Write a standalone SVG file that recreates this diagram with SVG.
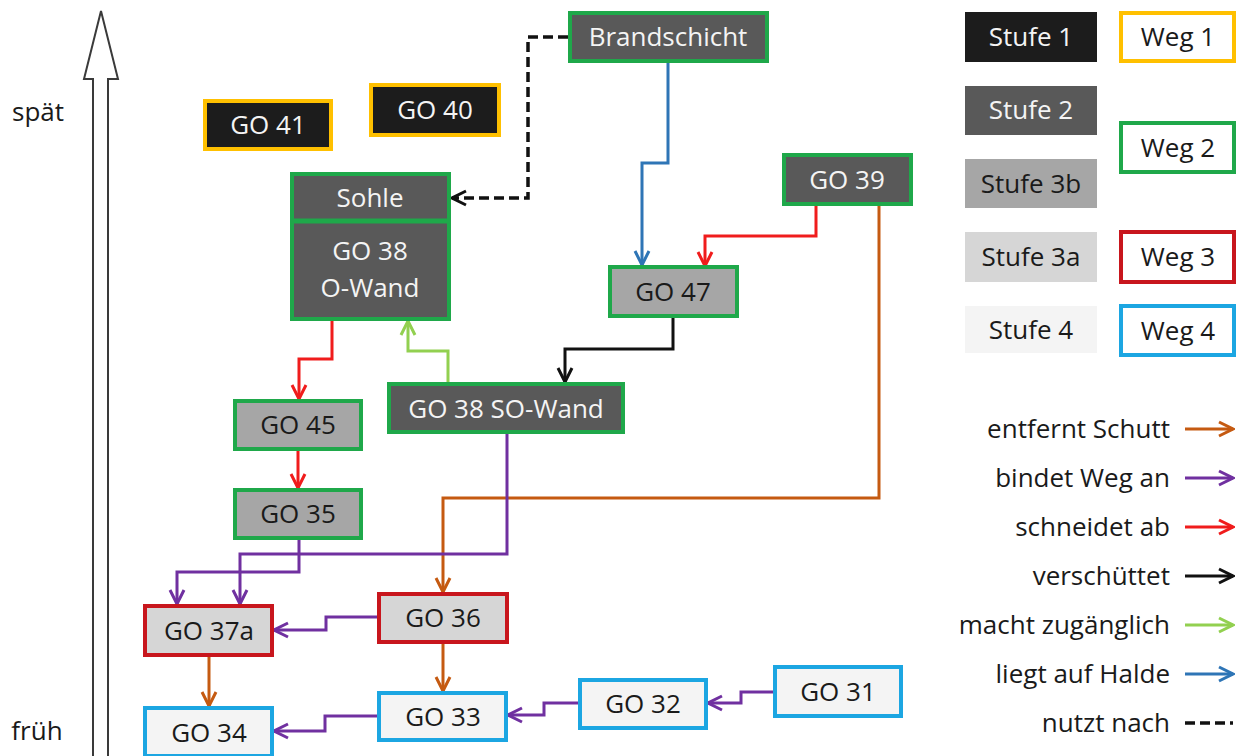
<svg xmlns="http://www.w3.org/2000/svg" width="1239" height="756" viewBox="0 0 1239 756">
<style>
text{font-family:"Open Sans","Noto Sans","Liberation Sans",sans-serif;font-size:26px;text-anchor:middle;fill:#1a1a1a}
.w{fill:#f4f4f4}
.lg{text-anchor:end}
.s1{fill:#1c1c1c}.s2{fill:#595959}.s3b{fill:#a6a6a6}.s3a{fill:#d6d6d6}.s4{fill:#f4f4f4}
.bY{stroke:#ffc000;stroke-width:4}.bG{stroke:#1fa84a;stroke-width:4}.bR{stroke:#c8161d;stroke-width:4}.bB{stroke:#1ca6e2;stroke-width:4}
.c{fill:none;stroke-width:3;stroke-linejoin:miter}
.or{stroke:#c55a11;marker-end:url(#aO)}.pu{stroke:#7030a0;marker-end:url(#aP)}.rd{stroke:#f01c1c;marker-end:url(#aR)}
.bk{stroke:#111;marker-end:url(#aK)}.gr{stroke:#92d050;marker-end:url(#aG)}.bl{stroke:#2e75b6;marker-end:url(#aB)}
.da{stroke:#111;stroke-width:3.5;stroke-dasharray:10 5;marker-end:url(#aK)}
</style>
<defs>
<marker id="aO" viewBox="0 0 18 18" markerWidth="18" markerHeight="18" refX="16" refY="9" orient="auto" markerUnits="userSpaceOnUse"><path d="M2,2 L16,9 L2,16" fill="none" stroke="#c55a11" stroke-width="3"/></marker>
<marker id="aP" viewBox="0 0 18 18" markerWidth="18" markerHeight="18" refX="16" refY="9" orient="auto" markerUnits="userSpaceOnUse"><path d="M2,2 L16,9 L2,16" fill="none" stroke="#7030a0" stroke-width="3"/></marker>
<marker id="aR" viewBox="0 0 18 18" markerWidth="18" markerHeight="18" refX="16" refY="9" orient="auto" markerUnits="userSpaceOnUse"><path d="M2,2 L16,9 L2,16" fill="none" stroke="#f01c1c" stroke-width="3"/></marker>
<marker id="aK" viewBox="0 0 18 18" markerWidth="18" markerHeight="18" refX="16" refY="9" orient="auto" markerUnits="userSpaceOnUse"><path d="M2,2 L16,9 L2,16" fill="none" stroke="#111" stroke-width="3"/></marker>
<marker id="aG" viewBox="0 0 18 18" markerWidth="18" markerHeight="18" refX="16" refY="9" orient="auto" markerUnits="userSpaceOnUse"><path d="M2,2 L16,9 L2,16" fill="none" stroke="#92d050" stroke-width="3"/></marker>
<marker id="aB" viewBox="0 0 18 18" markerWidth="18" markerHeight="18" refX="16" refY="9" orient="auto" markerUnits="userSpaceOnUse"><path d="M2,2 L16,9 L2,16" fill="none" stroke="#2e75b6" stroke-width="3"/></marker>
</defs>
<rect width="1239" height="756" fill="#fff"/>
<g id="timeline">
<polygon points="101,11 118,79 108,79 108,760 93,760 93,79 84,79" fill="#fff" stroke="#3a3a3a" stroke-width="2"/>
<text x="38" y="121">spät</text>
<text x="37" y="740">früh</text>
</g>
<g id="connectors">
<path class="c da" d="M568,37 H528 V198 H452"/>
<path class="c bl" d="M668,63 V163 H642 V265"/>
<path class="c rd" d="M816,206 V236 H705 V266"/>
<path class="c or" d="M879,206 V498 H443 V592"/>
<path class="c bk" d="M673,318 V349 H565 V382"/>
<path class="c rd" d="M332,321 V359 H299 V399"/>
<path class="c gr" d="M448,382 V351 H408 V321"/>
<path class="c rd" d="M298,451 V488"/>
<path class="c pu" d="M507,434 V554 H240 V604"/>
<path class="c pu" d="M299,540 V572 H177 V604"/>
<path class="c pu" d="M377,617 H326 V630 H274"/>
<path class="c or" d="M209,657 V706"/>
<path class="c or" d="M443,644 V691"/>
<path class="c pu" d="M377,716 H325 V731 H274"/>
<path class="c pu" d="M578,703 H544 V715 H508"/>
<path class="c pu" d="M773,692 H741 V703 H708"/>
</g>
<g id="go41"><rect class="s1 bY" x="205" y="101" width="126" height="48"/><text class="w" x="268" y="134">GO 41</text></g>
<g id="go40"><rect class="s1 bY" x="371" y="85" width="128" height="50"/><text class="w" x="435" y="119">GO 40</text></g>
<g id="brandschicht"><rect class="s2 bG" x="570" y="13" width="197" height="48"/><text class="w" x="668" y="46">Brandschicht</text></g>
<g id="go38o"><rect class="s2 bG" x="292" y="174" width="157" height="145"/><line x1="292" y1="221" x2="449" y2="221" stroke="#1fa84a" stroke-width="5"/><text class="w" x="370" y="207">Sohle</text><text class="w" x="370" y="260">GO 38</text><text class="w" x="370" y="297">O-Wand</text></g>
<g id="go47"><rect class="s3b bG" x="610" y="267" width="127" height="49"/><text x="673" y="301">GO 47</text></g>
<g id="go39"><rect class="s2 bG" x="784" y="155" width="127" height="49"/><text class="w" x="847" y="189">GO 39</text></g>
<g id="go38so"><rect class="s2 bG" x="389" y="384" width="234" height="48"/><text class="w" x="506" y="418">GO 38 SO-Wand</text></g>
<g id="go45"><rect class="s3b bG" x="235" y="401" width="126" height="48"/><text x="298" y="434">GO 45</text></g>
<g id="go35"><rect class="s3b bG" x="235" y="490" width="126" height="48"/><text x="298" y="523">GO 35</text></g>
<g id="go37a"><rect class="s3a bR" x="145" y="606" width="127" height="49"/><text x="209" y="640">GO 37a</text></g>
<g id="go36"><rect class="s3a bR" x="379" y="594" width="128" height="48"/><text x="443" y="627">GO 36</text></g>
<g id="go34"><rect class="s4 bB" x="145" y="708" width="127" height="48"/><text x="209" y="742">GO 34</text></g>
<g id="go33"><rect class="s4 bB" x="379" y="693" width="127" height="47"/><text x="443" y="726">GO 33</text></g>
<g id="go32"><rect class="s4 bB" x="580" y="680" width="126" height="48"/><text x="643" y="713">GO 32</text></g>
<g id="go31"><rect class="s4 bB" x="775" y="667" width="126" height="49"/><text x="838" y="701">GO 31</text></g>
<g id="legend-stufe">
<rect class="s1" x="965" y="12" width="132" height="50"/><text class="w" x="1031" y="46">Stufe 1</text>
<rect class="s2" x="965" y="86" width="132" height="49"/><text class="w" x="1031" y="119">Stufe 2</text>
<rect class="s3b" x="965" y="159" width="132" height="49"/><text x="1031" y="193">Stufe 3b</text>
<rect class="s3a" x="965" y="232" width="132" height="50"/><text x="1031" y="266">Stufe 3a</text>
<rect class="s4" x="965" y="306" width="132" height="47"/><text x="1031" y="339">Stufe 4</text>
</g>
<g id="legend-weg">
<rect fill="#fff" class="bY" x="1121" y="13" width="113" height="48"/><text x="1178" y="46">Weg 1</text>
<rect fill="#fff" class="bG" x="1121" y="123" width="113" height="49"/><text x="1178" y="157">Weg 2</text>
<rect fill="#fff" class="bR" x="1121" y="232" width="113" height="50"/><text x="1178" y="266">Weg 3</text>
<rect fill="#fff" class="bB" x="1121" y="306" width="113" height="49"/><text x="1178" y="340">Weg 4</text>
</g>
<g id="legend-arrows">
<text class="lg" x="1170" y="438">entfernt Schutt</text><path class="c or" d="M1185,429 H1233"/>
<text class="lg" x="1170" y="487">bindet Weg an</text><path class="c pu" d="M1185,478 H1233"/>
<text class="lg" x="1170" y="536">schneidet ab</text><path class="c rd" d="M1185,527 H1233"/>
<text class="lg" x="1170" y="585">verschüttet</text><path class="c bk" d="M1185,576 H1233"/>
<text class="lg" x="1170" y="634">macht zugänglich</text><path class="c gr" d="M1185,625 H1233"/>
<text class="lg" x="1170" y="683">liegt auf Halde</text><path class="c bl" d="M1185,674 H1233"/>
<text class="lg" x="1170" y="732">nutzt nach</text><path d="M1185,723 H1233" fill="none" stroke="#111" stroke-width="3.5" stroke-dasharray="10 5"/>
</g>
</svg>
